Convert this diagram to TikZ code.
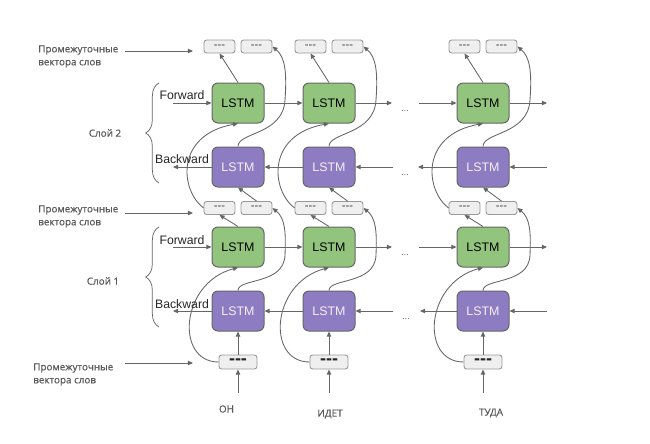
\documentclass[tikz,border=0pt]{standalone}
\usepackage{fontspec}
\setmainfont{Liberation Sans}
\newfontfamily\labfont[FakeBold=0.6]{Open Sans}
\usetikzlibrary{arrows.meta,decorations.pathreplacing,calc}
\definecolor{lgreen}{HTML}{93C47D}
\definecolor{lpurple}{HTML}{8E7CC3}
\definecolor{edgec}{HTML}{666666}
\definecolor{arrc}{HTML}{666666}
\definecolor{labc}{HTML}{595959}
\definecolor{sbfill}{HTML}{EFEFEF}
\definecolor{sbdraw}{HTML}{999999}
\begin{document}
\begin{tikzpicture}[x=0.75pt,y=-0.75pt,
  lstmf/.style={draw=edgec, line width=0.75pt, fill=lgreen, rounded corners=4.5pt, minimum width=39pt, minimum height=30pt, inner sep=0pt, font=\fontsize{9.3}{11}\selectfont, text=black},
  lstmb/.style={lstmf, fill=lpurple, text=white!95!black},
  sbox/.style={draw=sbdraw, line width=0.7pt, fill=sbfill, rounded corners=2pt, minimum width=23.25pt, minimum height=9.75pt, inner sep=0pt, font=\fontsize{8.5}{9}\selectfont, text=black!75},
  ibox/.style={sbox, minimum width=28.5pt, minimum height=10.5pt, font=\fontsize{13.5}{12}\bfseries\selectfont, text=black!85},
  arr/.style={draw=arrc, line width=0.65pt, -{Triangle[length=3.8pt,width=3.3pt]}},
  dirlab/.style={font=\fontsize{9.2}{11}\selectfont, text=black!85, inner sep=0pt},
  lab/.style={font=\labfont\fontsize{7.4}{9.75}\selectfont, text=labc, inner sep=0pt, align=left},
  dotsty/.style={font=\fontsize{7}{8}\selectfont, text=arrc, inner sep=0pt},
  brc/.style={draw=arrc, line width=0.55pt, decorate, decoration={brace, amplitude=10pt}},
]
\useasboundingbox (0,0) rectangle (650,443);

% columns
\foreach \c/\x in {1/238, 2/329, 3/483} {
  \node[lstmf] (f2\c) at (\x,103) {LSTM};
  \node[lstmb] (b2\c) at (\x,167) {LSTM};
  \node[lstmf] (f1\c) at (\x,247) {LSTM};
  \node[lstmb] (b1\c) at (\x,311) {LSTM};
  \node[sbox] (tl\c) at (\x-18.5,46.5) {-{}-{}-};
  \node[sbox] (tr\c) at (\x+18.5,46.5) {-{}-{}-};
  \node[sbox] (ml\c) at (\x-18.5,208) {-{}-{}-};
  \node[sbox] (mr\c) at (\x+18.5,208) {-{}-{}-};
  \node[ibox] (ib\c) at (\x,362) {-{}-{}-};
  \coordinate (in\c) at (\x,393);
  % straight connectors
  \draw[arr] (in\c) -- (ib\c.south);
  \draw[arr] (ib\c.north) -- (b1\c.south);
  \draw[arr] (f1\c.north) -- (ml\c.south);
  \draw[arr] (mr\c.north) -- (b2\c.south);
  \draw[arr] (f2\c.north) -- (tl\c.south);
  % curved connectors
  \draw[arr] (ib\c.west) .. controls (\x-63,362) and (\x-58,283) .. (f1\c.south);
  \draw[arr] (ml\c.west) .. controls (\x-58,190) and (\x-63,135) .. (f2\c.south);
  \draw[arr] (b1\c.north) .. controls (\x,278) and (\x+46,285) .. (\x+47,255)
                          .. controls (\x+48,232) and (\x+47,218) .. (mr\c.east);
  \draw[arr] (b2\c.north) .. controls (\x,132) and (\x+45,135) .. (\x+47,100)
                          .. controls (\x+49,72) and (\x+47,57) .. (tr\c.east);
}

% horizontal connectors, layer 2
\coordinate (f2in) at (173,103); \coordinate (f2a) at (392,103);
\coordinate (f2b) at (419,103);  \coordinate (f2out) at (547,103);
\draw[arr] (f2in) -- (f21);
\draw[arr] (f21) -- (f22);
\draw[arr] (f22) -- (f2a);
\draw[arr] (f2b) -- (f23);
\draw[arr] (f23) -- (f2out);
\coordinate (b2in) at (547,167); \coordinate (b2a) at (418,167);
\coordinate (b2b) at (393,167);  \coordinate (b2out) at (173,167);
\draw[arr] (b2in) -- (b23);
\draw[arr] (b23) -- (b2a);
\draw[arr] (b2b) -- (b22);
\draw[arr] (b22) -- (b21);
\draw[arr] (b21) -- (b2out);

% horizontal connectors, layer 1
\coordinate (f1in) at (173,247); \coordinate (f1a) at (392,247);
\coordinate (f1b) at (419,247);  \coordinate (f1out) at (547,247);
\draw[arr] (f1in) -- (f11);
\draw[arr] (f11) -- (f12);
\draw[arr] (f12) -- (f1a);
\draw[arr] (f1b) -- (f13);
\draw[arr] (f13) -- (f1out);
\coordinate (b1in) at (547,311); \coordinate (b1a) at (420,311);
\coordinate (b1b) at (393,311);  \coordinate (b1out) at (173,311);
\draw[arr] (b1in) -- (b13);
\draw[arr] (b13) -- (b1a);
\draw[arr] (b1b) -- (b12);
\draw[arr] (b12) -- (b11);
\draw[arr] (b11) -- (b1out);

% dots
\node[dotsty] (d1) at (405,111) {...};
\node[dotsty] (d2) at (405,175) {...};
\node[dotsty] (d3) at (405,255) {...};
\node[dotsty] (d4) at (406,319) {...};

% direction labels
\node[dirlab] (fw2) at (182,95) {Forward};
\node[dirlab] (bw2) at (182,159) {Backward};
\node[dirlab] (fw1) at (182,240) {Forward};
\node[dirlab] (bw1) at (182,304) {Backward};

% braces and layer labels
\draw[brc] (159,183) -- (159,83);
\draw[brc] (159,327) -- (159,227);
\node[lab] (s2) at (105,133) {Слой 2};
\node[lab] (s1) at (103,281) {Слой 1};

% intermediate vector labels
\node[lab, anchor=west] (p2) at (38,56.5) {Промежуточные\\вектора слов};
\node[lab, anchor=west] (p1) at (38,216.5) {Промежуточные\\вектора слов};
\node[lab, anchor=west] (p0) at (33,374.5) {Промежуточные\\вектора слов};
\coordinate (p2s) at (125,51);  \coordinate (p2e) at (193,51);
\coordinate (p1s) at (125,213); \coordinate (p1e) at (193,213);
\coordinate (p0s) at (125,363); \coordinate (p0e) at (193,363);
\draw[arr] (p2s) -- (p2e);
\draw[arr] (p1s) -- (p1e);
\draw[arr] (p0s) -- (p0e);

% words
\node[lab] (w1) at (226.5,409) {ОН};
\node[lab] (w2) at (330,414) {ИДЕТ};
\node[lab] (w3) at (491,413) {ТУДА};
\end{tikzpicture}
\end{document}
